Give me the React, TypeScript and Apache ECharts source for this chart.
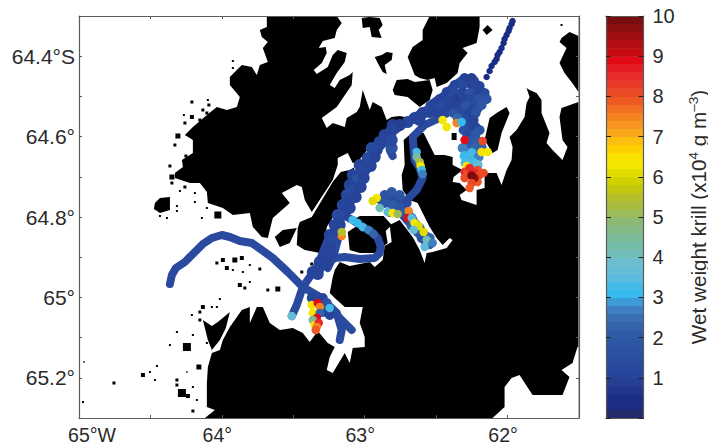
import React, { useEffect, useRef } from "react";
import * as echarts from "echarts";

// Outlines were digitised on a raster: column 79 = 65W, 143 columns per degree; row 16 = 64.3S, 402 rows per degree.
type Pt = number[];
const toLon = (col: number) => -65 + (col - 79) / 143;
const toLat = (row: number) => 64.3 + (row - 16) / 402;

const LAND_BASE: Pt[] = [[79, 16], [579, 16], [579, 418], [79, 418]];

const SEA_MAIN: Pt[] = [
  [79, 16], [267, 16], [267, 27], [260, 30], [262, 37], [268, 42], [263, 48], [268, 62], [260, 65], [257, 75], [252, 67], [242, 65], [230, 77], [230, 85], [240, 97], [237, 107], [227, 110], [217, 107], [207, 115], [193, 127], [185, 135], [193, 140], [193, 153], [182, 160], [183, 167], [175, 173], [175, 178], [190, 183], [200, 183], [207, 192], [208, 203], [223, 208], [233, 215], [250, 213], [253, 227], [262, 237], [268, 238], [273, 218], [290, 203], [282, 193], [297, 185], [302, 187], [305, 200], [312, 212], [333, 180], [338, 165], [338, 158], [348, 153], [353, 163], [358, 162], [370, 147], [380, 137], [390, 128], [397, 125], [405, 123], [410, 118], [400, 116], [392, 117], [387, 120], [382, 107], [373, 102], [370, 110], [363, 90], [360, 107], [357, 112], [347, 118], [345, 127], [333, 123], [327, 128], [322, 118], [337, 107], [352, 85], [353, 72], [350, 75], [340, 80], [335, 88], [330, 85], [337, 73], [345, 62], [347, 53], [338, 50], [333, 55], [328, 67], [317, 74], [314, 70], [322, 63], [327, 53], [326, 47], [319, 48], [323, 41], [335, 38], [337, 30], [342, 23], [337, 16],
  [430, 16], [423, 30], [423, 40], [413, 47], [408, 57], [415, 75], [420, 78], [428, 80], [435, 78], [437, 87], [447, 83], [458, 73], [460, 63], [468, 53], [463, 48], [477, 43], [480, 27], [480, 16],
  [579, 16], [579, 36], [570, 32], [562, 38], [560, 42], [567, 48], [560, 63], [565, 73], [572, 82], [579, 92], [579, 102], [562, 108], [560, 117], [563, 140], [568, 147], [563, 160], [553, 150], [547, 143], [550, 133], [542, 113], [542, 100], [537, 93], [530, 90], [527, 88], [530, 97], [527, 103], [525, 117], [517, 130], [510, 137], [513, 147], [512, 160], [507, 170], [502, 185], [497, 173], [485, 173], [485, 188], [477, 190], [477, 205], [462, 200], [460, 195], [467, 190], [460, 183], [453, 182], [454, 177], [463, 170], [453, 165], [453, 157], [445, 155], [435, 155], [430, 145], [424, 133], [412, 133], [404, 140], [405, 165], [402, 175], [403, 190], [410, 200], [418, 203], [430, 227], [437, 238], [443, 245], [450, 238], [453, 240], [447, 248], [433, 252], [427, 253], [425, 263], [420, 250], [413, 237], [400, 220], [390, 225], [392, 242], [385, 246], [383, 260], [375, 267], [370, 262], [350, 266], [340, 262], [335, 270], [333, 277], [330, 293], [335, 298], [345, 307], [363, 307], [360, 323], [365, 337], [365, 347], [353, 348], [350, 363], [345, 353], [333, 373], [327, 370], [330, 357], [335, 347], [328, 343], [318, 331], [310, 342], [303, 333], [293, 328], [280, 330], [270, 323], [263, 307], [257, 307], [250, 323], [250, 307], [242, 310], [230, 327], [223, 340], [220, 350], [212, 353], [208, 367], [207, 383], [207, 407], [215, 410], [205, 418], [79, 418],
];
const SEA_SOUTHEAST: Pt[] = [[493, 418], [505, 407], [505, 387], [512, 378], [520, 375], [533, 395], [563, 395], [570, 377], [562, 370], [573, 363], [578, 347], [579, 347], [579, 418]];

const ISLAND_D: Pt[] = [[362, 18], [370, 17], [380, 18], [383, 25], [379, 30], [382, 38], [372, 37], [370, 27], [363, 28]];
const ISLAND_E: Pt[] = [[375, 57], [382, 55], [387, 52], [393, 53], [392, 60], [385, 65], [387, 74], [383, 72], [378, 63]];
const ISLAND_F: Pt[] = [[397, 80], [408, 79], [415, 82], [430, 80], [433, 90], [430, 100], [420, 107], [408, 97], [395, 95], [393, 90]];
const ISLAND_G: Pt[] = [[483, 30], [488, 25], [493, 30], [487, 35]];
const ISLAND_K: Pt[] = [[497, 113], [507, 107], [510, 113], [502, 133], [498, 150], [493, 153], [485, 140], [490, 118]];
const ISLAND_L: Pt[] = [[463, 133], [468, 133], [468, 142], [463, 142]];
const ISLAND_L2: Pt[] = [[452, 133], [457, 133], [457, 140], [452, 140]];
const ISLAND_P: Pt[] = [[341, 172], [350, 170], [355, 167], [343, 197], [338, 210], [327, 227], [325, 243], [320, 253], [305, 250], [297, 245], [298, 228], [300, 222], [312, 217], [333, 182]];
const ISLAND_Q: Pt[] = [[275, 237], [283, 230], [297, 228], [290, 243], [280, 247]];
const ISLAND_R: Pt[] = [[155, 203], [160, 198], [170, 197], [170, 210], [160, 213], [154, 209]];
const ISLAND_S: Pt[] = [[203, 320], [212, 326], [218, 322], [230, 312], [226, 328], [220, 340], [212, 350], [208, 340]];
const ISLAND_LOOP: Pt[] = [[348, 232], [363, 222], [385, 225], [388, 243], [375, 253], [360, 253], [350, 250]];
const ISLAND_TOP: Pt[] = [[350, 222], [360, 216], [384, 216], [392, 225], [385, 232], [360, 226]];
const ISLANDS = [ISLAND_D, ISLAND_E, ISLAND_F, ISLAND_G, ISLAND_K, ISLAND_L, ISLAND_L2, ISLAND_P, ISLAND_Q, ISLAND_R, ISLAND_S, ISLAND_LOOP, ISLAND_TOP];

// small islets: column, row, approximate extent
const ISLETS: Pt[] = [
  [192, 102, 3], [208, 100, 2], [209, 105, 3], [203, 110, 3], [207, 113, 3], [192, 117, 4], [200, 120, 3], [184, 115, 2], [185, 123, 3], [178, 136, 5], [175, 145, 3], [186, 156, 3], [170, 166, 3], [172, 177, 5], [172, 183, 3], [185, 187, 3], [180, 191, 2], [195, 193, 2], [195, 202, 2], [177, 206, 2], [177, 211, 2], [207, 208, 2], [218, 215, 7], [233, 61, 2], [233, 68, 2], [562, 25, 2],
  [160, 216, 2], [167, 218, 2], [202, 218, 2], [217, 263, 3], [223, 260, 4], [227, 268, 4], [235, 260, 5], [242, 258, 4], [233, 270, 2], [243, 272, 2], [250, 265, 2], [260, 269, 3], [240, 285, 4], [250, 282, 2], [245, 288, 3], [268, 290, 3], [278, 289, 5], [203, 307, 4], [200, 312, 3], [220, 299, 2], [212, 307, 2], [217, 307, 2], [192, 315, 2], [200, 320, 3], [177, 332, 2], [170, 345, 2], [187, 347, 8], [193, 335, 2], [207, 343, 2], [199, 367, 5], [84, 362, 1.5], [143, 375, 4], [150, 372, 2], [155, 380, 2], [157, 366, 2], [114, 383, 3], [177, 380, 3], [177, 385, 3], [182, 393, 8], [188, 396, 4], [193, 387, 2], [187, 372, 1.5], [197, 400, 2], [193, 411, 3], [83, 402, 2], [312, 264, 3], [302, 272, 3],
];

const TRACK_WEST: Pt[] = [[170, 284], [172, 275], [176, 268], [185, 262], [195, 252], [203, 244], [212, 238], [222, 235], [230, 237], [240, 241], [252, 243], [262, 250], [273, 258], [288, 272], [303, 287]];
const TRACK_FORK: Pt[] = [[303, 287], [297, 305], [292, 316]];
const TRACK_CHANNEL: Pt[] = [[303, 287], [317, 267], [323, 253], [328, 240], [337, 227], [343, 207], [353, 193], [360, 170], [377, 150], [393, 132], [410, 120], [430, 108], [445, 100]];
const TRACK_CHANNEL_B: Pt[] = [[335, 235], [347, 205], [358, 185], [370, 158], [385, 142]];
const TRACK_SIDE_A: Pt[] = [[340, 220], [333, 232], [327, 245], [326, 262], [320, 270]];
const TRACK_SIDE_B: Pt[] = [[338, 240], [334, 255], [328, 268]];
const TRACK_LOOP: Pt[] = [[347, 217], [353, 220], [363, 227], [372, 232], [378, 238], [381, 246], [380, 253], [375, 258], [360, 259], [345, 257], [335, 258], [330, 262]];
const TRACK_ARM: Pt[] = [[303, 287], [320, 297], [337, 313], [342, 330], [340, 340]];
const TRACK_ARM_B: Pt[] = [[352, 330], [340, 318], [328, 305]];
const TRACK_BAY: Pt[] = [[393, 132], [390, 150], [393, 156]];
const TRACK_INLET: Pt[] = [[440, 118], [425, 125], [413, 137], [415, 160], [420, 168], [423, 178], [417, 190], [407, 200], [395, 205]];
const TRACK_LOBE: Pt[] = [[380, 200], [395, 205], [407, 220], [420, 235], [430, 245]];
const TRACK_LOBE_B: Pt[] = [[388, 195], [403, 205], [415, 222], [427, 238]];
const TRACK_NE_A: Pt[] = [[430, 105], [445, 95], [455, 85], [465, 78], [475, 80], [482, 95], [485, 100], [478, 110], [470, 113], [472, 135], [472, 150], [474, 165]];
const TRACKS = [TRACK_WEST, TRACK_FORK, TRACK_CHANNEL, TRACK_CHANNEL_B, TRACK_SIDE_A, TRACK_SIDE_B, TRACK_LOOP, TRACK_ARM, TRACK_ARM_B, TRACK_BAY, TRACK_INLET, TRACK_LOBE, TRACK_LOBE_B, TRACK_NE_A];

// column, row, wet weight krill (x10^4 g m-3)
const SAMPLES_NORTH: Pt[] = [[487, 77, 0.6], [490, 71, 0.6], [492, 66, 0.6], [495, 62, 0.6], [497, 59, 0.6], [498, 55, 0.6], [500, 52, 0.6], [502, 48, 0.6], [504, 43, 0.6], [505, 39, 0.6], [507, 35, 0.6], [509, 31, 0.6], [510, 28, 0.6], [512, 24, 0.6], [513, 21, 0.6]];
const SAMPLES_NE_BLOB: Pt[] = [
  [465, 78, 0.8], [472, 78, 0.8],
  [455, 85, 1.0], [463, 85, 1.4], [472, 85, 1.0], [480, 86, 1.2],
  [447, 92, 1.0], [455, 92, 1.4], [463, 92, 1.2], [470, 93, 1.6], [478, 92, 1.2], [485, 93, 1.4],
  [440, 99, 1.0], [448, 99, 1.2], [456, 99, 0.8], [464, 99, 1.2], [472, 99, 1.4], [480, 99, 1.6], [487, 99, 1.6],
  [434, 106, 1.0], [442, 106, 1.4], [450, 106, 1.0], [458, 106, 1.2], [466, 106, 1.6], [474, 106, 1.4], [482, 105, 1.8],
  [438, 113, 1.2], [446, 113, 1.0], [454, 113, 1.6], [462, 113, 1.4], [470, 113, 1.2], [476, 113, 1.6],
  [458, 118, 2.2], [466, 120, 1.4], [474, 120, 1.2],
  [468, 127, 1.4], [476, 127, 1.2], [464, 130, 1.6], [480, 130, 1.6], [468, 134, 1.4], [476, 134, 1.8], [470, 141, 1.8], [478, 141, 2.0], [468, 148, 2.0], [476, 148, 2.2], [482, 147, 2.4], [463, 148, 2.6],
  [465, 156, 3.0], [472, 153, 3.2], [479, 157, 2.8], [466, 163, 3.2], [473, 162, 3.2], [478, 165, 3.4],
];
const SAMPLES_CHANNEL: Pt[] = [
  [430, 112, 1.2], [423, 113, 1.0], [420, 120, 1.0], [415, 118, 1.2], [408, 122, 1.0], [400, 125, 0.8], [393, 125, 0.8], [392, 130, 1.2], [385, 135, 1.0], [387, 140, 1.2], [380, 142, 1.2], [377, 150, 1.0], [372, 148, 1.4], [368, 158, 1.4], [375, 157, 1.2], [360, 165, 1.2], [365, 170, 1.4], [371, 166, 1.2], [353, 175, 1.2], [358, 180, 1.6], [364, 178, 1.0], [350, 185, 1.2], [355, 190, 1.4], [361, 187, 1.2], [347, 195, 1.4], [350, 200, 1.0], [356, 197, 1.2], [343, 205, 1.2], [345, 212, 1.0], [350, 208, 1.2], [338, 215, 1.4], [340, 225, 1.2], [335, 225, 1.0], [330, 235, 1.2], [336, 238, 1.0], [333, 240, 1.4], [330, 247, 1.2], [325, 255, 1.0], [331, 255, 1.2], [320, 262, 1.2], [327, 264, 1.0], [313, 272, 1.0], [318, 274, 1.0], [392, 148, 1.6], [392, 140, 1.4],
];
const SAMPLES_LOBE_BLUE: Pt[] = [[385, 195, 1.6], [392, 192, 1.8], [400, 195, 1.8], [407, 203, 1.4], [385, 203, 1.8], [393, 205, 2.0], [400, 207, 1.6], [390, 212, 2.4], [405, 213, 2.0], [412, 218, 2.2], [412, 226, 2.2], [420, 228, 2.4], [418, 232, 2.0], [426, 236, 2.0], [422, 238, 1.8], [425, 240, 1.6], [430, 238, 2.2], [430, 244, 1.8], [312, 298, 1.2], [323, 298, 1.2], [327, 303, 1.6], [323, 312, 1.4], [330, 315, 1.2]];
const SAMPLES_HOT_EAST: Pt[] = [[443, 120, 6.3], [447, 127, 6.2], [457, 123, 7.6], [462, 122, 3.0], [465, 140, 8.8], [483, 141, 8.0], [482, 152, 6.4], [488, 152, 6.2], [467, 166, 6.5], [465, 172, 8.4], [468, 171, 8.2], [470, 168, 8.6], [478, 170, 8.2], [484, 173, 8.0], [475, 173, 8.6], [480, 175, 8.0], [472, 175, 8.8], [465, 178, 8.2], [478, 182, 7.9], [475, 178, 9.6], [472, 176, 9.8], [472, 183, 8.2], [470, 188, 7.8]];
const SAMPLES_HOT_INLET: Pt[] = [[417, 152, 3.2], [417, 157, 4.2], [420, 162, 5.2], [421, 166, 6.2], [422, 170, 3.2], [423, 174, 2.7]];
const SAMPLES_LOBE: Pt[] = [[377, 198, 6.3], [373, 201, 6.0], [380, 208, 4.0], [388, 212, 3.4], [393, 213, 6.3], [398, 214, 5.0], [409, 211, 7.4], [408, 218, 8.8], [412, 218, 3.4], [415, 223, 6.2], [419, 226, 6.0], [414, 230, 3.6], [424, 232, 6.0], [427, 240, 4.0], [433, 243, 2.6], [425, 247, 3.4]];
const SAMPLES_LOOP: Pt[] = [[342, 236, 7.6], [342, 232, 5.4], [353, 220, 3.2], [358, 223, 3.1], [363, 227, 3.3], [369, 230, 2.6], [374, 234, 2.2]];
const SAMPLES_COLUMN: Pt[] = [[292, 316, 3.8], [312, 305, 6.4], [318, 303, 8.8], [320, 307, 7.6], [330, 308, 3.2], [313, 313, 6.3], [320, 313, 2.4], [317, 318, 8.8], [313, 320, 4.5], [315, 325, 6.2], [319, 323, 8.4], [317, 327, 7.4], [316, 330, 7.8]];
const SAMPLES_BROAD = [SAMPLES_NE_BLOB, SAMPLES_LOBE_BLUE];
const SAMPLES_FINE = [SAMPLES_LOOP, SAMPLES_HOT_INLET, SAMPLES_LOBE, SAMPLES_COLUMN, SAMPLES_HOT_EAST];

const X_TICK_LABELS: Record<string, string> = { "-65.0": "{w|65°W}", "-64.0": "{d|64°}", "-63.0": "{d|63°}", "-62.0": "{d|62°}" };
const Y_TICK_LABELS: Record<string, string> = { "64.4": "64.4°S", "64.6": "64.6°", "64.8": "64.8°", "65.0": "65°", "65.2": "65.2°" };
const COLORBAR_TICKS = ["1", "2", "3", "4", "5", "6", "7", "8", "9", "10"];

const KRILL_BANDS = [
  "#232a6a", "#1d2b80", "#1c2d85", "#22368e", "#254093",
  "#26449a", "#284a9e", "#2a4e9f", "#2b53a2", "#2d57a4",
  "#2f5ba6", "#3364aa", "#3a70b2", "#3e7fbf", "#3f9bd8",
  "#36bbef", "#45bae6", "#5cbcdd", "#66bdd4", "#6cbecc",
  "#70bdb8", "#75bca8", "#7bbb98", "#84ba85", "#8eb974",
  "#9dbb5a", "#aabb40", "#b5c02c", "#c2c810", "#d0d200",
  "#e2dc00", "#f5e800", "#f9e100", "#fdd100", "#fcbf0f",
  "#f9a81a", "#f69520", "#f48420", "#f17024", "#ee5a24",
  "#ec4a26", "#e93a28", "#e62b2a", "#e41d24", "#e20a15",
  "#c80a12", "#b50d13", "#a00e12", "#8c0f10", "#780d0d",
];
const BAND_WIDTH = 0.2;
const bandColor = (v: number) => KRILL_BANDS[Math.min(KRILL_BANDS.length - 1, Math.floor(v / BAND_WIDTH))];

const FONT = "'Liberation Sans', Arial, sans-serif";
const INK = "#2a2a2a";
const FRAME = "#5a5a5a";

const polygonSeries = (polys: Pt[][], fill: string, z: number) => ({
  type: "custom",
  xAxisIndex: 0,
  yAxisIndex: 0,
  z,
  silent: true,
  clip: true,
  encode: { x: 0, y: 1 },
  data: polys.map((p) => [toLon(p[0][0]), toLat(p[0][1])]),
  renderItem: (params: any, api: any) => ({
    type: "polygon",
    shape: { points: polys[params.dataIndex].map(([c, r]) => api.coord([toLon(c), toLat(r)])) },
    style: { fill },
  }),
});

const sampleSeries = (sets: Pt[][], symbolSize: number, z: number) => ({
  type: "scatter",
  xAxisIndex: 0,
  yAxisIndex: 0,
  z,
  silent: true,
  symbolSize,
  itemStyle: { color: (p: any) => bandColor(p.value[2]), opacity: 1 },
  data: sets.flat().map(([c, r, v]) => [toLon(c), toLat(r), v]),
});

const mapAxisX = (position: string, labels: boolean) => ({
  type: "value",
  gridIndex: 0,
  position,
  min: -65,
  max: -61.5,
  interval: 0.5,
  z: 10,
  splitLine: { show: false },
  axisLine: { show: true, onZero: false, lineStyle: { color: FRAME, width: 1.2 } },
  axisTick: { show: true, inside: true, length: 3, lineStyle: { color: FRAME } },
  axisLabel: labels
    ? {
        show: true,
        margin: 8,
        hideOverlap: false,
        showMinLabel: true,
        color: INK,
        formatter: (v: number) => X_TICK_LABELS[v.toFixed(1)] ?? "",
        rich: {
          w: { fontFamily: FONT, fontSize: 19.5, lineHeight: 17, color: INK, padding: [0, 0, 0, 26] },
          d: { fontFamily: FONT, fontSize: 19.5, lineHeight: 17, color: INK, padding: [0, 9, 0, 0] },
        },
      }
    : { show: false },
});
const mapAxisY = (position: string, labels: boolean) => ({
  type: "value",
  gridIndex: 0,
  position,
  inverse: true,
  min: 64.3,
  max: 65.3,
  interval: 0.1,
  z: 10,
  splitLine: { show: false },
  axisLine: { show: true, onZero: false, lineStyle: { color: FRAME, width: 1.2 } },
  axisTick: { show: true, inside: true, length: 3, lineStyle: { color: FRAME } },
  axisLabel: labels
    ? {
        show: true,
        margin: 4,
        color: INK,
        fontFamily: FONT,
        fontSize: 21,
        formatter: (v: number) => Y_TICK_LABELS[v.toFixed(1)] ?? "",
      }
    : { show: false },
});

export default function App() {
  const ref = useRef<HTMLDivElement>(null);
  useEffect(() => {
    if (!ref.current) return;
    const chart = echarts.init(ref.current, undefined, { renderer: "svg" });
    const trackSeries = TRACKS.map((t) => ({
      type: "line",
      xAxisIndex: 0,
      yAxisIndex: 0,
      z: 5,
      silent: true,
      showSymbol: false,
      symbol: "none",
      lineStyle: { color: "#2a4a9f", width: 8, cap: "round", join: "round" },
      data: t.map(([c, r]) => [toLon(c), toLat(r)]),
    }));
    const isletSeries = {
      type: "scatter",
      xAxisIndex: 0,
      yAxisIndex: 0,
      z: 4,
      silent: true,
      symbol: "rect",
      symbolSize: (v: number[]) => v[2],
      itemStyle: { color: "#000000", opacity: 1 },
      data: ISLETS.map(([c, r, s]) => [toLon(c), toLat(r), s]),
    };
    const colorbarSeries = {
      type: "custom",
      xAxisIndex: 2,
      yAxisIndex: 2,
      z: 3,
      silent: true,
      encode: { x: 0, y: 1 },
      data: KRILL_BANDS.map((_, i) => [0, i * BAND_WIDTH]),
      renderItem: (params: any, api: any) => {
        const i = params.dataIndex;
        const a = api.coord([0, i * BAND_WIDTH]);
        const b = api.coord([1, (i + 1) * BAND_WIDTH]);
        return {
          type: "rect",
          shape: { x: a[0], y: b[1], width: b[0] - a[0], height: a[1] - b[1] + 0.5 },
          style: { fill: KRILL_BANDS[i] },
        };
      },
    };
    chart.setOption({
      animation: false,
      backgroundColor: "#ffffff",
      grid: [
        { left: 79, top: 16, width: 500, height: 402, outerBoundsMode: "none" },
        { left: 606, top: 16, width: 37.5, height: 402, outerBoundsMode: "none" },
      ],
      xAxis: [
        mapAxisX("bottom", true),
        mapAxisX("top", false),
        { type: "value", gridIndex: 1, position: "bottom", min: 0, max: 1, z: 10, splitLine: { show: false }, axisTick: { show: false }, axisLabel: { show: false }, axisLine: { show: true, onZero: false, lineStyle: { color: FRAME, width: 1.2 } } },
        { type: "value", gridIndex: 1, position: "top", min: 0, max: 1, z: 10, splitLine: { show: false }, axisTick: { show: false }, axisLabel: { show: false }, axisLine: { show: true, onZero: false, lineStyle: { color: FRAME, width: 1.2 } } },
      ],
      yAxis: [
        mapAxisY("left", true),
        mapAxisY("right", false),
        {
          type: "value", gridIndex: 1, position: "left", min: 0, max: 10, interval: 1, z: 10,
          splitLine: { show: false }, axisLabel: { show: false },
          axisTick: { show: true, inside: true, length: 5, lineStyle: { color: "#222" } },
          axisLine: { show: true, onZero: false, lineStyle: { color: FRAME, width: 1.2 } },
        },
        {
          type: "value", gridIndex: 1, position: "right", min: 0, max: 10, interval: 1, z: 10,
          splitLine: { show: false },
          axisTick: { show: true, inside: true, length: 5, lineStyle: { color: "#222" } },
          axisLine: { show: true, onZero: false, lineStyle: { color: FRAME, width: 1.2 } },
          axisLabel: {
            show: true, margin: 9, color: INK, fontFamily: FONT, fontSize: 20,
            formatter: (v: number) => (COLORBAR_TICKS.includes(String(v)) ? String(v) : ""),
          },
          name: "{n|Wet weight krill (x10}{s|4}{n| g m}{s|–3}{n|)}",
          nameLocation: "middle",
          nameRotate: 90,
          nameGap: 43,
          nameTextStyle: {
            rich: {
              n: { fontFamily: FONT, fontSize: 20.7, color: INK },
              s: { fontFamily: FONT, fontSize: 13.5, color: INK, padding: [0, 0, 9, 0] },
            },
          },
        },
      ],
      series: [
        polygonSeries([LAND_BASE], "#000000", 1),
        polygonSeries([SEA_MAIN, SEA_SOUTHEAST], "#ffffff", 2),
        polygonSeries(ISLANDS, "#000000", 3),
        isletSeries,
        ...trackSeries,
        sampleSeries([SAMPLES_NORTH], 6.5, 6),
        sampleSeries([SAMPLES_CHANNEL], 12, 6),
        sampleSeries(SAMPLES_BROAD, 10, 6),
        sampleSeries(SAMPLES_FINE, 8.5, 7),
        colorbarSeries,
      ],
    });
    return () => chart.dispose();
  }, []);
  return <div ref={ref} style={{ position: "fixed", left: 0, top: 0, width: 708, height: 445 }} />;
}
